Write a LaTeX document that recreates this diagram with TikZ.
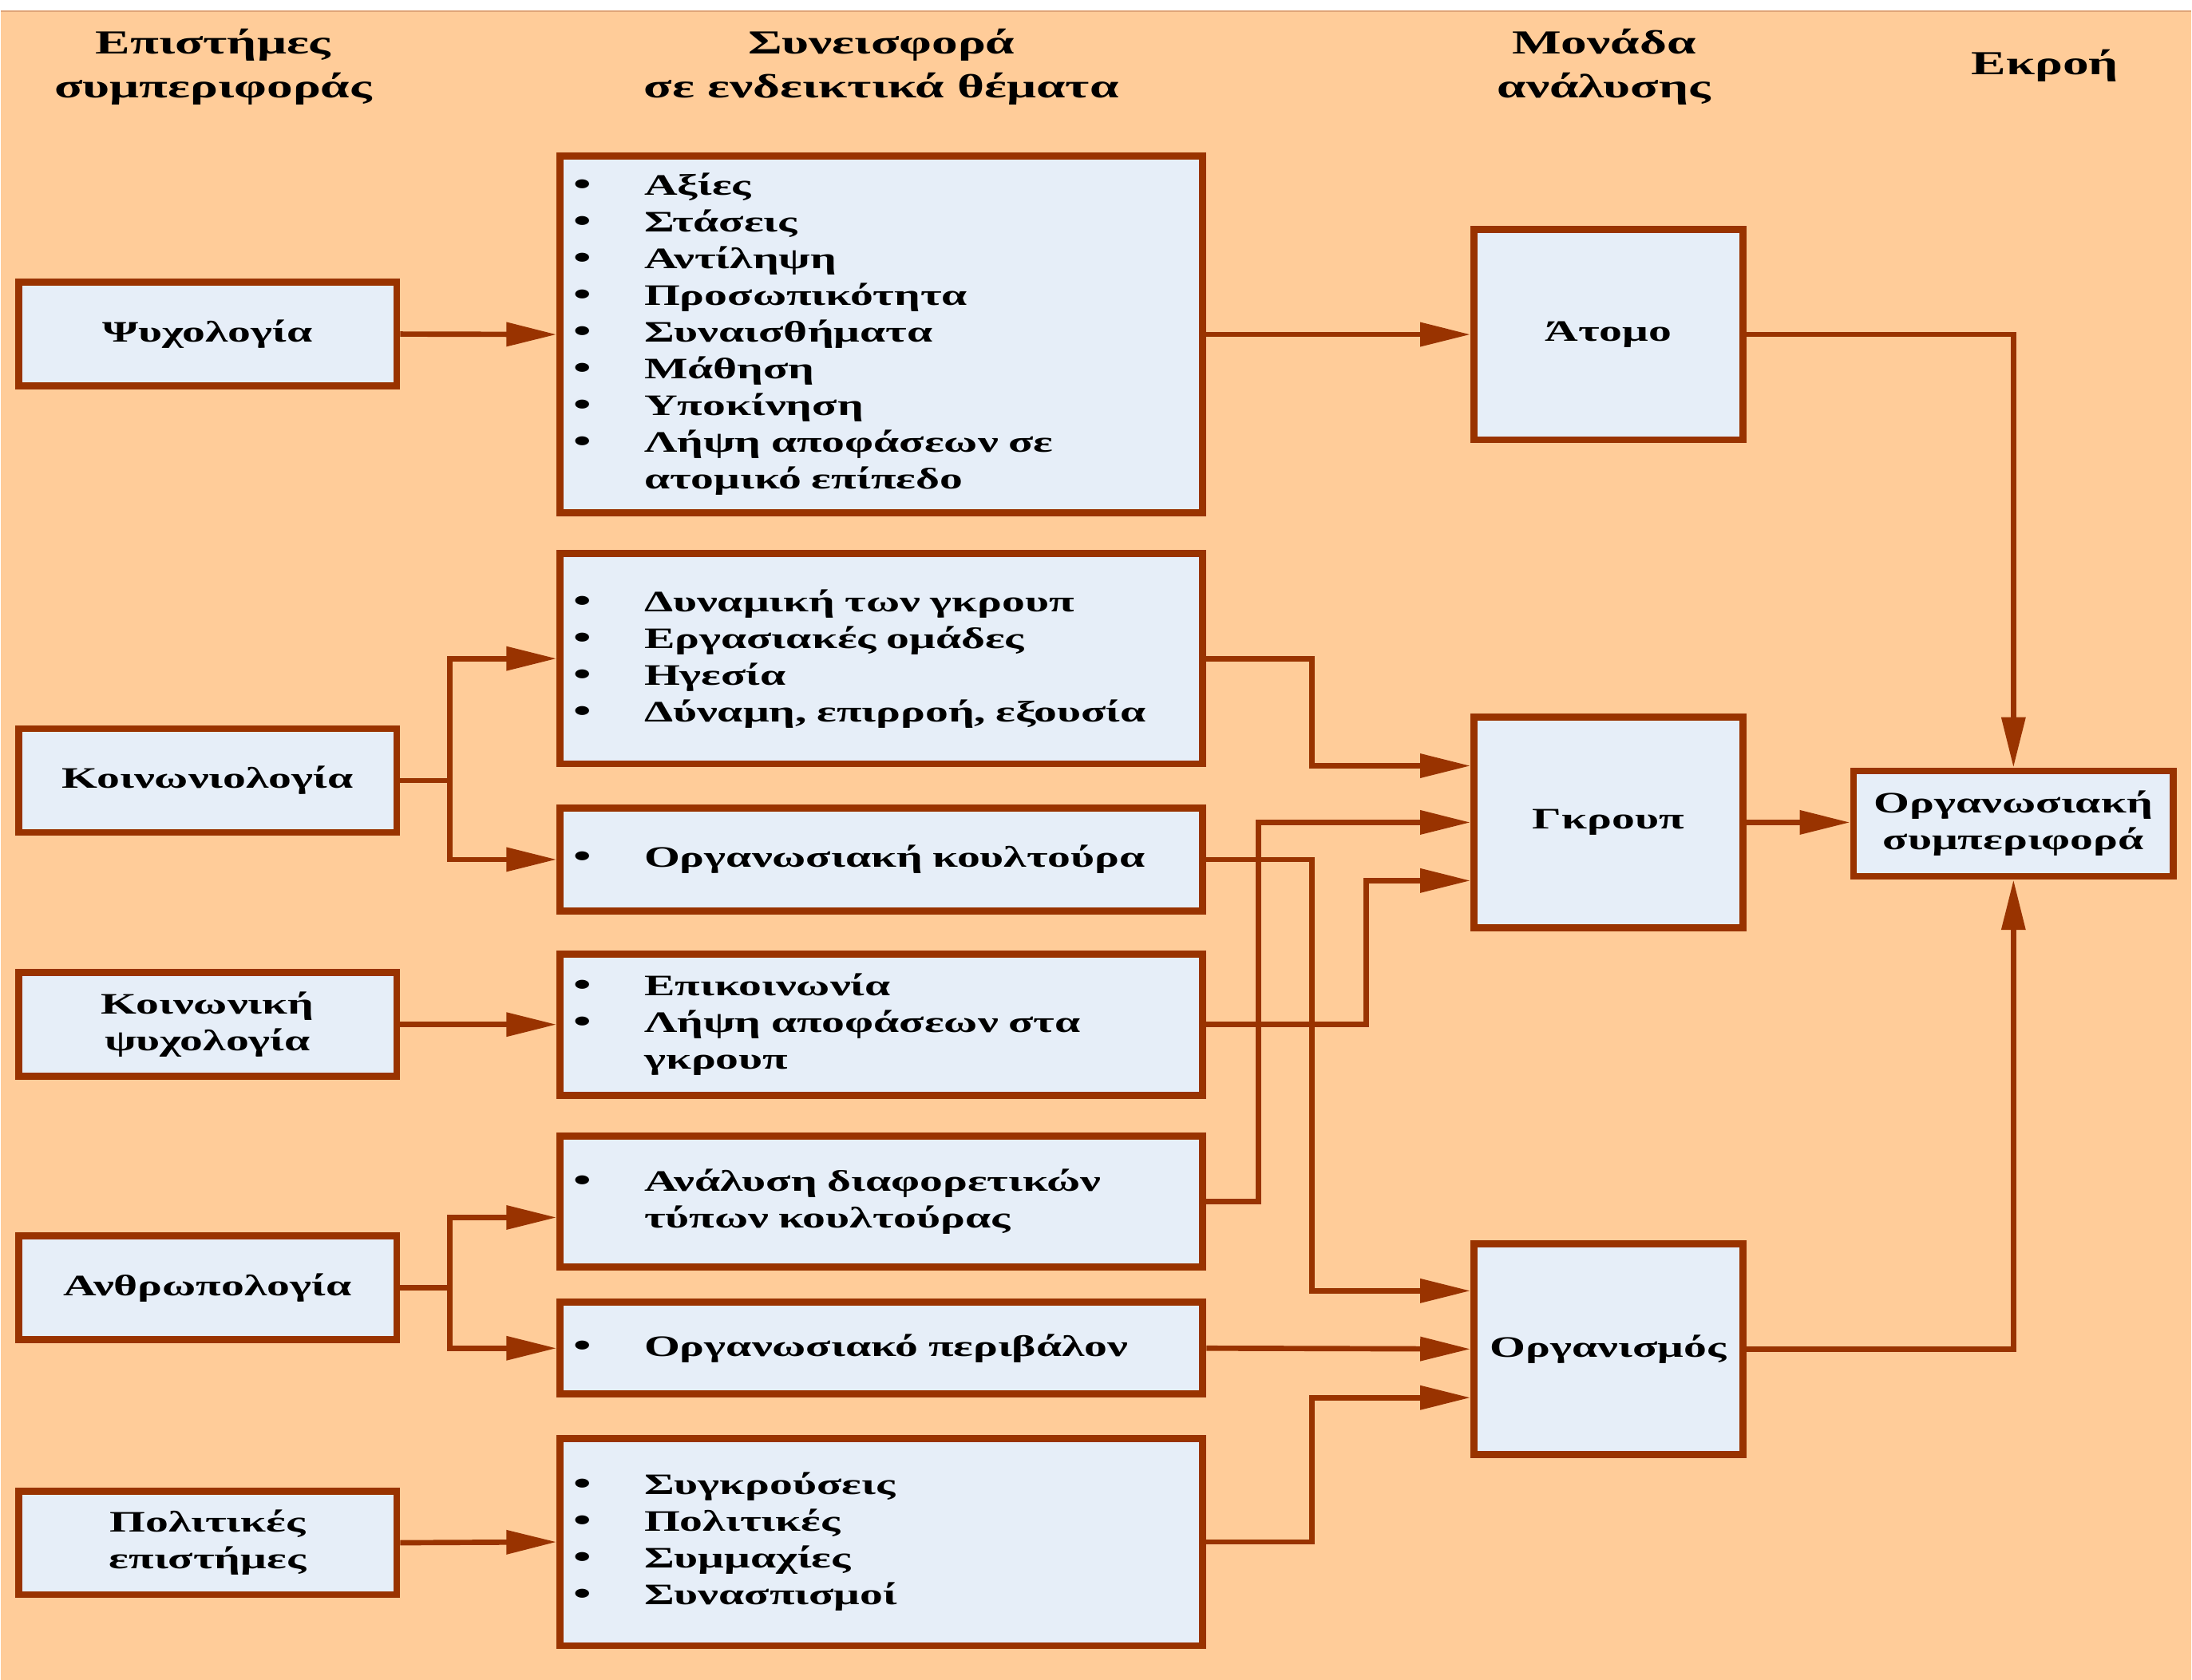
\documentclass[tikz,border=0pt]{standalone}
\usepackage{fontspec}
\setmainfont{Liberation Serif}[FakeStretch=1.55]
\usetikzlibrary{arrows.meta}

\definecolor{peach}{HTML}{FFCC99}
\definecolor{peachline}{HTML}{E0A578}
\definecolor{rust}{HTML}{993300}
\definecolor{paleblue}{HTML}{E6EEF8}

\newcommand{\bul}[1]{\mbox{\makebox[0.885cm][l]{\fontsize{11.8}{13.1}\selectfont•}#1}}
\newcommand{\cnt}[1]{\mbox{\hspace*{0.885cm}#1}}

\begin{document}
\begin{tikzpicture}[
  box/.style={draw=rust, line width=2.5pt, fill=paleblue, inner ysep=0pt,
    font=\bfseries\fontsize{10.6}{13.1}\selectfont},
  scibox/.style={box, minimum width=4.74cm, minimum height=1.30cm,
    text width=4.54cm, inner xsep=0.1cm, align=center},
  topicbox/.style={box, text width=7.72cm, inner xsep=0.17cm, align=left},
  unitbox/.style={box, minimum width=3.37cm, minimum height=2.64cm,
    text width=3.17cm, inner xsep=0.1cm, align=center},
  head/.style={font=\bfseries\fontsize{12}{15.9}\selectfont, align=center},
  arr/.style={draw=rust, line width=1.9pt,
    -{Triangle[length=0.63cm, width=0.29cm]}},
]
% Page background
\fill[white] (0,0) rectangle (27.46,-21.07);
\fill[peach] (0,-0.14) rectangle (27.46,-21.07);
\draw[peachline, line width=0.8pt] (0,-0.14) -- (27.46,-0.14);
\useasboundingbox (0,0) rectangle (27.46,-21.07);

% Column headings
\node[head] (hsci) at (2.66,-0.84) {Επιστήμες\\συμπεριφοράς};
\node[head] (htopic) at (11.04,-0.84) {Συνεισφορά\\σε ενδεικτικά θέματα};
\node[head] (hunit) at (20.10,-0.84) {Μονάδα\\ανάλυσης};
\node[head] (hout) at (25.63,-0.82) {Εκροή};

% Behavioural sciences
\node[scibox] (psy) at (2.59,-4.19) {Ψυχολογία};
\node[scibox] (soc) at (2.59,-9.79) {Κοινωνιολογία};
\node[scibox] (socpsy) at (2.59,-12.85) {Κοινωνική\\ψυχολογία};
\node[scibox] (anthro) at (2.59,-16.15) {Ανθρωπολογία};
\node[scibox] (pol) at (2.59,-19.35) {Πολιτικές\\επιστήμες};

% Contribution topics
\node[topicbox, minimum height=4.47cm] (indiv) at (11.04,-4.195)
  {\bul{Αξίες}\\ \bul{Στάσεις}\\ \bul{Αντίληψη}\\ \bul{Προσωπικότητα}\\
   \bul{Συναισθήματα}\\ \bul{Μάθηση}\\ \bul{Υποκίνηση}\\
   \bul{Λήψη αποφάσεων σε}\\ \cnt{ατομικό επίπεδο}};
\node[topicbox, minimum height=2.64cm] (grpdyn) at (11.04,-8.26)
  {\bul{Δυναμική των γκρουπ}\\ \bul{Εργασιακές ομάδες}\\ \bul{Ηγεσία}\\
   \bul{Δύναμη, επιρροή, εξουσία}};
\node[topicbox, minimum height=1.29cm] (culture) at (11.04,-10.78)
  {\bul{Οργανωσιακή κουλτούρα}};
\node[topicbox, minimum height=1.77cm] (comm) at (11.04,-12.85)
  {\bul{Επικοινωνία}\\ \bul{Λήψη αποφάσεων στα}\\ \cnt{γκρουπ}};
\node[topicbox, minimum height=1.64cm] (cultypes) at (11.04,-15.07)
  {\bul{Ανάλυση διαφορετικών}\\ \cnt{τύπων κουλτούρας}};
\node[topicbox, minimum height=1.15cm] (env) at (11.04,-16.91)
  {\bul{Οργανωσιακό περιβάλον}};
\node[topicbox, minimum height=2.60cm] (conflict) at (11.04,-19.34)
  {\bul{Συγκρούσεις}\\ \bul{Πολιτικές}\\ \bul{Συμμαχίες}\\
   \bul{Συνασπισμοί}};

% Units of analysis
\node[unitbox] (atomo) at (20.155,-4.195) {Άτομο};
\node[unitbox] (group) at (20.155,-10.315) {Γκρουπ};
\node[unitbox] (org) at (20.155,-16.92) {Οργανισμός};

% Outcome
\node[box, minimum width=4.01cm, minimum height=1.32cm, text width=3.81cm,
  inner xsep=0.1cm, align=center] (ob) at (25.235,-10.33)
  {Οργανωσιακή\\συμπεριφορά};

% Junction columns
\coordinate (jL) at (5.63,0);
\coordinate (jA) at (16.44,0);
\coordinate (jB) at (15.77,0);
\coordinate (jC) at (17.12,0);

% Sciences to topics
\draw[arr] (psy.east) -- (indiv.west);
\draw[arr] (soc.east) -- (soc.east -| jL) |- (grpdyn.west);
\draw[arr] (soc.east) -- (soc.east -| jL) |- (culture.west);
\draw[arr] (socpsy.east) -- (comm.west);
\draw[arr] (anthro.east) -- (anthro.east -| jL) |- ([yshift=-0.2cm]cultypes.west);
\draw[arr] (anthro.east) -- (anthro.east -| jL) |- (env.west);
\draw[arr] (pol.east) -- (conflict.west);

% Topics to units
\draw[arr] (indiv.east) -- (atomo.west);
\draw[arr] (grpdyn.east) -- (grpdyn.east -| jA) |- ([yshift=0.71cm]group.west);
\draw[arr] (cultypes.east) -- (cultypes.east -| jB) |- (group.west);
\draw[arr] (comm.east) -- (comm.east -| jC) |- ([yshift=-0.73cm]group.west);
\draw[arr] (culture.east) -- (culture.east -| jA) |- ([yshift=0.73cm]org.west);
\draw[arr] (env.east) -- (org.west);
\draw[arr] (conflict.east) -- (conflict.east -| jA) |- ([yshift=-0.61cm]org.west);

% Units to outcome
\draw[arr] (atomo.east) -| (ob.north);
\draw[arr] (group.east) -- (group.east -| ob.west);
\draw[arr] (org.east) -| (ob.south);
\end{tikzpicture}
\end{document}
